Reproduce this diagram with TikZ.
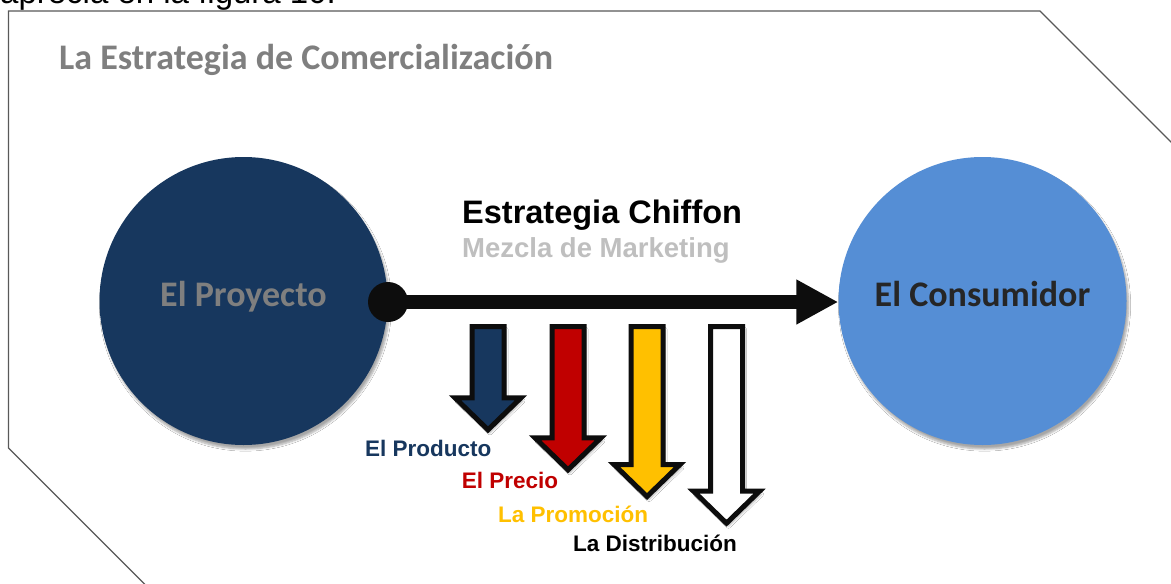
\documentclass[tikz,border=0pt]{standalone}
\usepackage{fontspec}
\setmainfont{Liberation Sans}
\newfontfamily\carlito{Carlito}
\usetikzlibrary{arrows.meta,shadows.blur}

\definecolor{navy}{HTML}{17375E}
\definecolor{skyblue}{HTML}{558ED5}
\definecolor{titlegray}{HTML}{7F7F7F}
\definecolor{lightgray}{HTML}{BFBFBF}
\definecolor{darktext}{HTML}{262626}
\definecolor{crimson}{HTML}{C00000}
\definecolor{amber}{HTML}{FFC000}
\definecolor{ink}{HTML}{0D0D0D}
\definecolor{framegray}{HTML}{595959}

\tikzset{
	bubble/.style = {circle, minimum size = 288pt, inner sep = 0pt,
		text height = 21pt, text depth = 9.6pt,
		font = \carlito\bfseries\fontsize{36}{42}\selectfont,
		blur shadow = {shadow xshift = 2pt, shadow yshift = -4pt, shadow blur steps = 6, shadow opacity = 35}},
	blockarrow/.style = {draw = ink, line width = 5pt, line join = miter,
		blur shadow = {shadow xshift = 2pt, shadow yshift = -3pt, shadow blur steps = 5, shadow opacity = 30}},
	mixlabel/.style = {anchor = base west, inner sep = 0pt, font = \bfseries\fontsize{22.5}{27}\selectfont}
}

\begin{document}
\begin{tikzpicture}[x = 1pt, y = -1pt]

	\useasboundingbox (0, 0) rectangle (1171, 584);
	\clip (0, 0) rectangle (1171, 584);
	\fill[white] (0, 0) rectangle (1171, 584);

	% Text and frame

	\node[anchor = base west, inner sep = 0pt, font = \fontsize{33}{40}\selectfont] (intro) at (0, 3) {aprecia en la figura 10.};

	\draw[framegray, line width = 1.3pt] (148.5, 588) -- (8.5, 448) -- (8.5, 11) -- (1040, 11) -- (1190, 161);

	\node[anchor = base west, inner sep = 0pt, titlegray, font = \carlito\bfseries\fontsize{36}{42}\selectfont] (titulo) at (59, 69.3) {La Estrategia de Comercializaci\'on};

	% Project and consumer

	\node[bubble, fill = navy, text = titlegray] (proyecto) at (243.5, 301) {El Proyecto};
	\node[bubble, fill = skyblue, text = darktext] (consumidor) at (982.5, 301) {El Consumidor};

	% Main connector

	\node[circle, fill = ink, minimum size = 40pt, inner sep = 0pt] (punto) at (388, 302) {};
	\draw[ink, line width = 14pt, -{Triangle[length = 42pt, width = 42pt]}] (punto.center) -- (punto.center -| consumidor.west);

	\node[anchor = base west, inner sep = 0pt, font = \bfseries\fontsize{32.5}{39}\selectfont] (chiffon) at (462, 223.3) {Estrategia Chiffon};
	\node[anchor = base west, inner sep = 0pt, lightgray, font = \bfseries\fontsize{27.5}{33}\selectfont] (mezcla) at (462, 257.3) {Mezcla de Marketing};

	% Marketing mix arrows

	\foreach \c/\t/\col in {488/429.8/navy, 568/469.8/crimson, 647/496.5/amber, 726.5/523.2/white}
		\filldraw[blockarrow, fill = \col] (\c-16, 326.5) -- (\c+16, 326.5) -- (\c+16, \t-32) -- (\c+33, \t-32)
			-- (\c, \t) -- (\c-33, \t-32) -- (\c-16, \t-32) -- cycle;

	\node[mixlabel, navy] (producto) at (365, 456.7) {El Producto};
	\node[mixlabel, crimson] (precio) at (461.7, 488.3) {El Precio};
	\node[mixlabel, amber] (promocion) at (498, 522.7) {La Promoci\'on};
	\node[mixlabel, black] (distribucion) at (573, 551.7) {La Distribuci\'on};

\end{tikzpicture}
\end{document}
